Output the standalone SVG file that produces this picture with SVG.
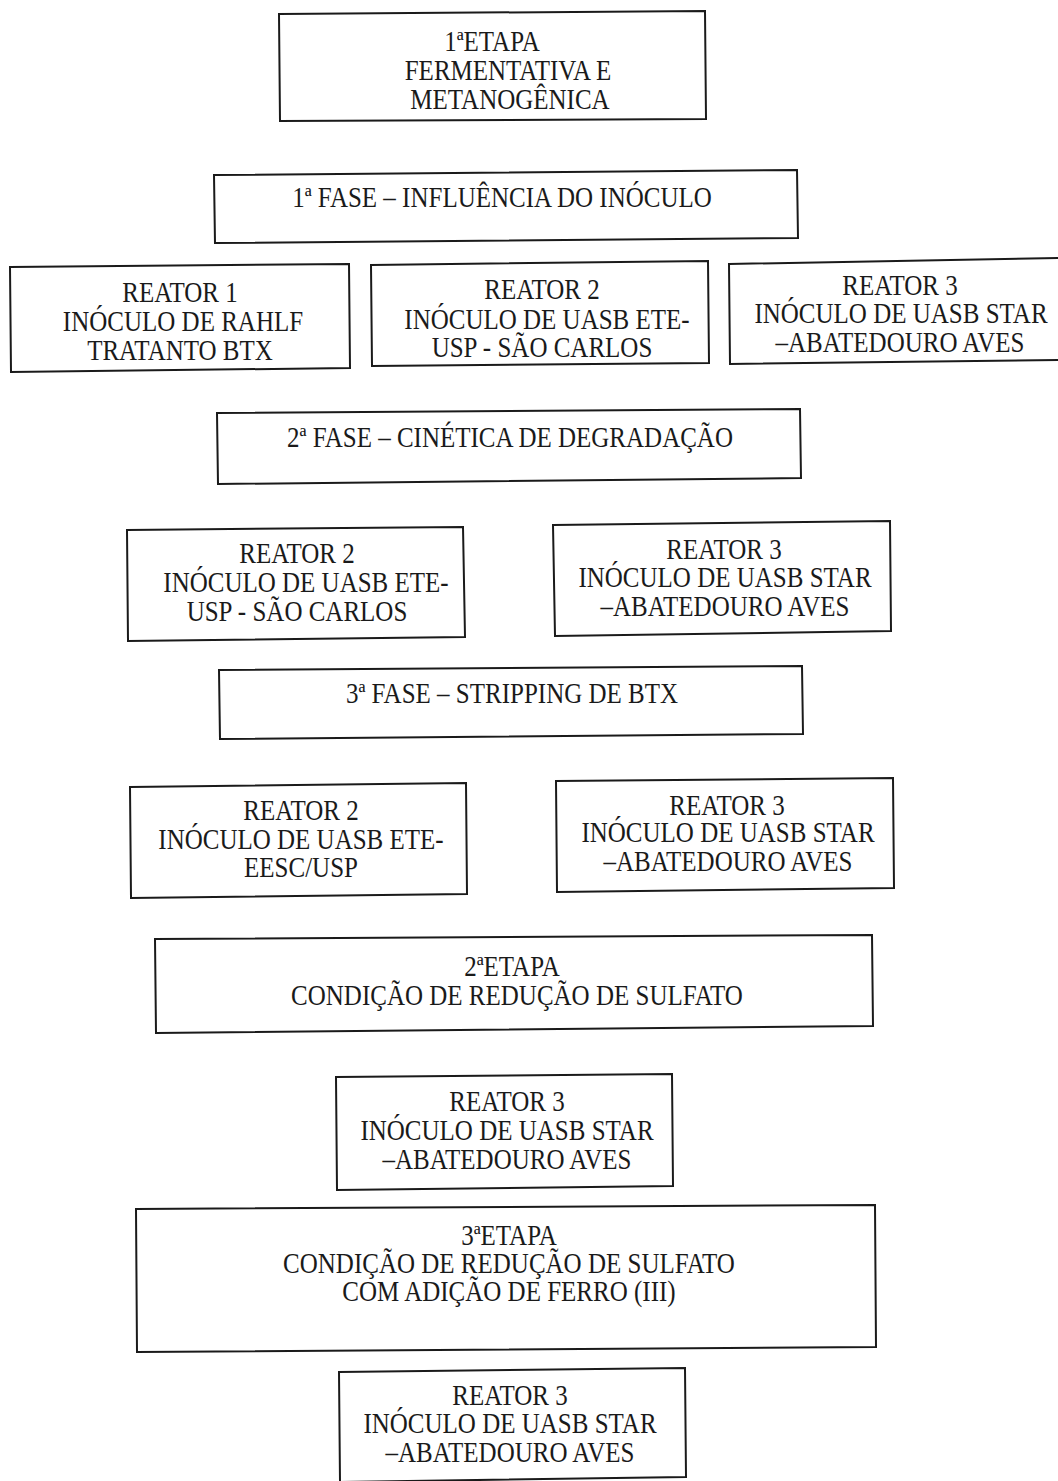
<svg xmlns="http://www.w3.org/2000/svg" width="1058" height="1481" viewBox="0 0 1058 1481">
<style>
.b{fill:none;stroke:#1a1a1a;stroke-width:2}
text{font-family:"Liberation Serif","Times New Roman",serif;font-size:25px;fill:#1a1a1a;text-anchor:middle}
</style>
<rect width="1058" height="1481" fill="#ffffff"/>
<g id="etapa1">
<polygon class="b" points="279,14 705,11 706,119 280,121"/>
<text transform="matrix(1 0 0 1.15 0 51)" x="492">1ªETAPA</text>
<text transform="matrix(1 0 0 1.15 0 80)" x="508">FERMENTATIVA E</text>
<text transform="matrix(1 0 0 1.15 0 109)" x="510">METANOGÊNICA</text>
</g>
<g id="fase1">
<polygon class="b" points="214,175 797,170 798,238 215,243"/>
<text transform="matrix(1 0 0 1.15 0 207)" x="502">1ª FASE – INFLUÊNCIA DO INÓCULO</text>
</g>
<g id="reator1">
<polygon class="b" points="10,267 349,264 350,368 11,372"/>
<text transform="matrix(1 0 0 1.15 0 302)" x="180">REATOR 1</text>
<text transform="matrix(1 0 0 1.15 0 331)" x="183">INÓCULO DE RAHLF</text>
<text transform="matrix(1 0 0 1.15 0 360)" x="180">TRATANTO BTX</text>
</g>
<g id="reator2a">
<polygon class="b" points="371,265 708,261 709,363 372,366"/>
<text transform="matrix(1 0 0 1.15 0 299)" x="542">REATOR 2</text>
<text transform="matrix(1 0 0 1.15 0 329)" x="547">INÓCULO DE UASB ETE-</text>
<text transform="matrix(1 0 0 1.15 0 357)" x="542">USP - SÃO CARLOS</text>
</g>
<g id="reator3a">
<polygon class="b" points="729,264 1060,258 1060,360 730,364"/>
<text transform="matrix(1 0 0 1.15 0 295)" x="900">REATOR 3</text>
<text transform="matrix(1 0 0 1.15 0 323)" x="901">INÓCULO DE UASB STAR</text>
<text transform="matrix(1 0 0 1.15 0 352)" x="900">–ABATEDOURO AVES</text>
</g>
<g id="fase2">
<polygon class="b" points="217,413 800,409 801,478 218,484"/>
<text transform="matrix(1 0 0 1.15 0 447)" x="510">2ª FASE – CINÉTICA DE DEGRADAÇÃO</text>
</g>
<g id="reator2b">
<polygon class="b" points="127,530 463,527 465,637 128,641"/>
<text transform="matrix(1 0 0 1.15 0 563)" x="297">REATOR 2</text>
<text transform="matrix(1 0 0 1.15 0 592)" x="306">INÓCULO DE UASB ETE-</text>
<text transform="matrix(1 0 0 1.15 0 621)" x="297">USP - SÃO CARLOS</text>
</g>
<g id="reator3b">
<polygon class="b" points="553,525 890,521 891,631 555,636"/>
<text transform="matrix(1 0 0 1.15 0 559)" x="724">REATOR 3</text>
<text transform="matrix(1 0 0 1.15 0 587)" x="725">INÓCULO DE UASB STAR</text>
<text transform="matrix(1 0 0 1.15 0 616)" x="725">–ABATEDOURO AVES</text>
</g>
<g id="fase3">
<polygon class="b" points="219,670 802,666 803,734 220,739"/>
<text transform="matrix(1 0 0 1.15 0 703)" x="512">3ª FASE – STRIPPING DE BTX</text>
</g>
<g id="reator2c">
<polygon class="b" points="130,787 466,783 467,894 131,898"/>
<text transform="matrix(1 0 0 1.15 0 820)" x="301">REATOR 2</text>
<text transform="matrix(1 0 0 1.15 0 849)" x="301">INÓCULO DE UASB ETE-</text>
<text transform="matrix(1 0 0 1.15 0 877)" x="301">EESC/USP</text>
</g>
<g id="reator3c">
<polygon class="b" points="556,781 893,778 894,888 557,892"/>
<text transform="matrix(1 0 0 1.15 0 815)" x="727">REATOR 3</text>
<text transform="matrix(1 0 0 1.15 0 842)" x="728">INÓCULO DE UASB STAR</text>
<text transform="matrix(1 0 0 1.15 0 871)" x="728">–ABATEDOURO AVES</text>
</g>
<g id="etapa2">
<polygon class="b" points="155,939 872,935 873,1026 156,1033"/>
<text transform="matrix(1 0 0 1.15 0 976)" x="512">2ªETAPA</text>
<text transform="matrix(1 0 0 1.15 0 1005)" x="517">CONDIÇÃO DE REDUÇÃO DE SULFATO</text>
</g>
<g id="reator3d">
<polygon class="b" points="336,1077 672,1074 673,1186 337,1190"/>
<text transform="matrix(1 0 0 1.15 0 1111)" x="507">REATOR 3</text>
<text transform="matrix(1 0 0 1.15 0 1140)" x="507">INÓCULO DE UASB STAR</text>
<text transform="matrix(1 0 0 1.15 0 1169)" x="507">–ABATEDOURO AVES</text>
</g>
<g id="etapa3">
<polygon class="b" points="136,1209 875,1205 876,1347 137,1352"/>
<text transform="matrix(1 0 0 1.15 0 1245)" x="509">3ªETAPA</text>
<text transform="matrix(1 0 0 1.15 0 1273)" x="509">CONDIÇÃO DE REDUÇÃO DE SULFATO</text>
<text transform="matrix(1 0 0 1.15 0 1301)" x="509">COM ADIÇÃO DE FERRO (III)</text>
</g>
<g id="reator3e">
<polygon class="b" points="339,1372 685,1368 686,1477 340,1482"/>
<text transform="matrix(1 0 0 1.15 0 1405)" x="510">REATOR 3</text>
<text transform="matrix(1 0 0 1.15 0 1433)" x="510">INÓCULO DE UASB STAR</text>
<text transform="matrix(1 0 0 1.15 0 1462)" x="510">–ABATEDOURO AVES</text>
</g>
<g id="connectors"/>
</svg>
